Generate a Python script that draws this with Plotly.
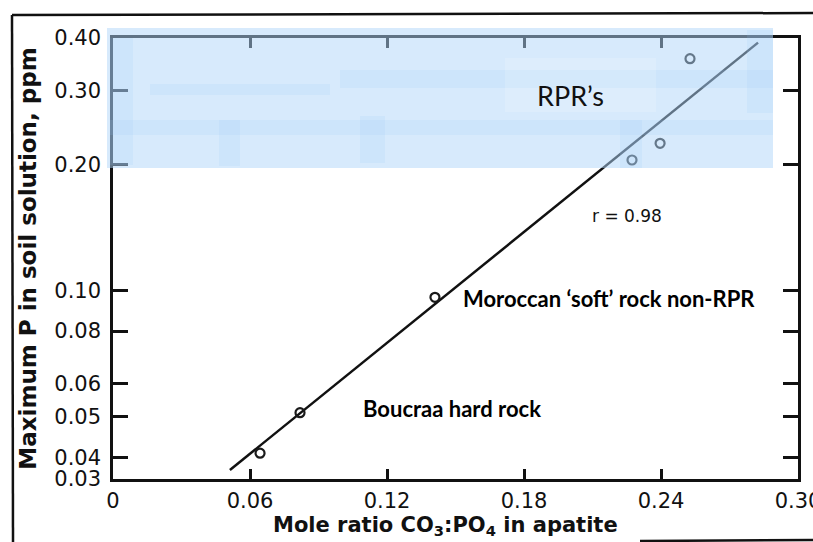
import math
import plotly.graph_objects as go

# ---- data ----
mole_ratio = [0.0644, 0.0819, 0.141, 0.2273, 0.2396, 0.2527]
max_p = [0.0409, 0.0511, 0.0963, 0.2047, 0.2243, 0.357]
fit_x = [0.0512, 0.2825]
fit_y = [0.0373, 0.390]

x_tickvals = [0, 0.06, 0.12, 0.18, 0.24, 0.30]
x_ticktext = ["0", "0.06", "0.12", "0.18", "0.24", "0.30"]
y_tickvals = [0.0355, 0.04, 0.05, 0.06, 0.08, 0.10, 0.20, 0.30, 0.40]
y_ticktext = ["0.03", "0.04", "0.05", "0.06", "0.08", "0.10", "0.20", "0.30", "0.40"]
y_range = [0.0355, 0.40]
x_range = [0, 0.30]

W, H = 813, 542
L, R, T, B = 113, 15, 38, 63
PW, PH = W - L - R, H - T - B


def px(x):
    return (x - L) / PW


def py(y):
    return (H - B - y) / PH


fig = go.Figure()
fig.add_trace(go.Scatter(x=fit_x, y=fit_y, mode="lines",
                         line=dict(color="#111111", width=2.5), showlegend=False))
fig.add_trace(go.Scatter(x=mole_ratio, y=max_p, mode="markers",
                         marker=dict(symbol="circle-open", size=9, color="#1a1a1a",
                                     line=dict(width=2.2, color="#1a1a1a")),
                         showlegend=False))

shapes = []
# outer frame of the scanned figure
for x0, y0, x1, y1 in [(12, 15, 813, 13), (12, 15, 13, 542), (640, 541, 813, 540)]:
    shapes.append(dict(type="line", xref="paper", yref="paper",
                       x0=px(x0), y0=py(y0), x1=px(x1), y1=py(y1),
                       line=dict(color="#111111", width=2.5), layer="above"))
# blue highlight
shapes.append(dict(type="rect", xref="paper", yref="paper",
                   x0=px(107), x1=px(773), y0=py(28), y1=py(168),
                   fillcolor="rgb(175,214,250)", opacity=0.5, line=dict(width=0), layer="above"))
patches = [(110, 38, 133, 165), (110, 120, 773, 135), (340, 70, 773, 88),
           (219, 120, 240, 166), (360, 116, 385, 163), (620, 120, 642, 168),
           (747, 30, 773, 113), (150, 84, 330, 95)]
for x0, y0, x1, y1 in patches:
    shapes.append(dict(type="rect", xref="paper", yref="paper",
                       x0=px(x0), x1=px(x1), y0=py(y0), y1=py(y1),
                       fillcolor="rgb(150,200,248)", opacity=0.14, line=dict(width=0), layer="above"))
shapes.append(dict(type="rect", xref="paper", yref="paper",
                   x0=px(505), x1=px(656), y0=py(58), y1=py(112),
                   fillcolor="white", opacity=0.15, line=dict(width=0), layer="above"))

annotations = [
    dict(text="RPR\u2019s", x=px(570), y=py(95), xref="paper", yref="paper",
         xanchor="center", yanchor="middle",
         showarrow=False, font=dict(family="Lato", size=27, color="#111111")),
    dict(text="r = 0.98", x=px(627), y=py(216), xref="paper", yref="paper",
         xanchor="center", yanchor="middle",
         showarrow=False, font=dict(family="DejaVu Sans", size=17, color="#111111")),
    dict(text="<b>Moroccan \u2018soft\u2019 rock non-RPR</b>", x=px(461), y=py(298),
         xref="paper", yref="paper", xanchor="left", yanchor="middle", showarrow=False,
         font=dict(family="Lato", size=22, color="#000000")),
    dict(text="<b>Boucraa hard rock</b>", x=px(361), y=py(408),
         xref="paper", yref="paper", xanchor="left", yanchor="middle", showarrow=False,
         font=dict(family="Lato", size=22, color="#000000"), bgcolor="white"),
    dict(text="<b>Mole ratio CO<sub>3</sub>:PO<sub>4</sub> in apatite</b>",
         x=px(445), y=py(526), xref="paper", yref="paper",
         xanchor="center", yanchor="middle", showarrow=False, borderpad=0,
         font=dict(family="DejaVu Sans", size=21, color="#111111")),
]

axis_common = dict(showline=True, linecolor="#111111", linewidth=2.5, mirror="ticks",
                   ticks="inside", tickcolor="#111111", tickwidth=2.5,
                   showgrid=False, zeroline=False, ticklabeloverflow="allow",
                   tickfont=dict(family="DejaVu Sans", size=21, color="#111111"))

fig.update_layout(
    width=W, height=H,
    margin=dict(l=L, r=R, t=T, b=B, autoexpand=False),
    paper_bgcolor="white", plot_bgcolor="white",
    shapes=shapes, annotations=annotations,
    xaxis=dict(range=x_range, tickvals=x_tickvals, ticktext=x_ticktext, ticklen=10,
               ticklabelstandoff=1, **axis_common),
    yaxis=dict(type="log", range=[math.log10(v) for v in y_range],
               tickvals=y_tickvals, ticktext=y_ticktext, ticklen=15,
               ticklabelstandoff=5,
               title=dict(text="<b>Maximum P in soil solution, ppm</b>",
                          font=dict(family="DejaVu Sans", size=23, color="#111111"),
                          standoff=12),
               **axis_common),
)

fig.write_html("out.html", config={"displayModeBar": False},
               post_script="document.body.style.margin='0';document.body.style.padding='0';")
